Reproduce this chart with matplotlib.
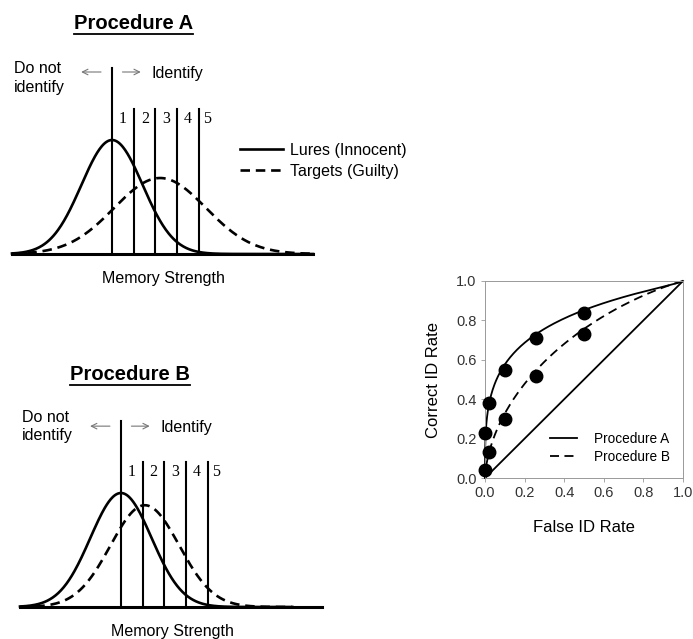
import math

import matplotlib

matplotlib.use("Agg")
import matplotlib.pyplot as plt
import numpy as np
from matplotlib.lines import Line2D

plt.rcParams["font.family"] = ["Liberation Sans", "DejaVu Sans"]

# signal-detection model (memory strength in lure-SD units)
LURE_MU, LURE_SD = 0.0, 1.0
TARGET_A = (1.57, 1.5)    # mean, sd of guilty distribution, procedure A
TARGET_B = (0.78, 1.12)   # procedure B
CRITERIA = [0.0, 0.71, 1.42, 2.13, 2.84]
CRIT_LABELS = ["1", "2", "3", "4", "5"]

# observed ROC points
FALSE_ID = [0.50, 0.26, 0.10, 0.02, 0.00]
CORRECT_A = [0.84, 0.71, 0.55, 0.38, 0.23]
CORRECT_B = [0.73, 0.52, 0.30, 0.13, 0.04]
ROC_TICKS = [0.0, 0.2, 0.4, 0.6, 0.8, 1.0]

ncdf = np.vectorize(lambda z: 0.5 * (1 + math.erf(z / math.sqrt(2))))


def npdf(x, mu, sd):
    return np.exp(-0.5 * ((x - mu) / sd) ** 2) / (sd * math.sqrt(2 * math.pi))


fig = plt.figure(figsize=(6.93, 6.39), dpi=100)
titles = []


def panel(rect, name, target, xlim, curve_hi, dn_y, arrow_y, label_x, title_x, title_y):
    ax = fig.add_axes(rect)
    ax.set_xlim(*xlim)
    ax.set_ylim(0, 0.749)
    ax.axis("off")
    x = np.linspace(xlim[0], curve_hi, 400)
    lures, = ax.plot(x, npdf(x, LURE_MU, LURE_SD), color="black", lw=1.9,
                     label="Lures (Innocent)", clip_on=False)
    targets, = ax.plot(x, npdf(x, *target), color="black", lw=1.9, dashes=(3.6, 2.2),
                       label="Targets (Guilty)", clip_on=False)
    ax.plot(xlim, [0, 0], color="black", lw=2.2, clip_on=False)
    for i, c in enumerate(CRITERIA):
        top = 0.651 if i == 0 else 0.507
        ax.plot([c, c], [0, top], color="black", lw=1.5, clip_on=False)
        ax.text(c + (0.36 if i < 4 else 0.27), 0.473, CRIT_LABELS[i], family="Liberation Serif",
                fontsize=11.5, ha="center", va="center")
    ax.text(xlim[0] + 0.05, dn_y, "Do not\nidentify", fontsize=11.5, ha="left", va="center",
            linespacing=1.3)
    ax.annotate("", xy=(-1.1, arrow_y), xytext=(-0.27, arrow_y),
                arrowprops=dict(arrowstyle="->", color="#777777", lw=0.8))
    ax.annotate("", xy=(1.03, arrow_y), xytext=(0.25, arrow_y),
                arrowprops=dict(arrowstyle="->", color="#777777", lw=0.8))
    ax.text(1.29, arrow_y - 0.005, "Identify", fontsize=11.5, ha="left", va="center")
    t = ax.text(title_x, title_y, name, fontsize=14.5, fontweight="bold", ha="center",
                va="center")
    titles.append(t)
    ax.text(label_x, -0.087, "Memory Strength", fontsize=11.5, ha="center", va="center")
    return ax, lures, targets


axA, la, ta = panel([12 / 693, 1 - 254 / 639, 301 / 693, 214 / 639], "Procedure A", TARGET_A,
                    (-3.27, 6.57), 6.57, 0.616, 0.637, 1.67, 0.69, 0.808)
axA.legend(handles=[la, ta], loc="upper left", bbox_to_anchor=(240 / 693, 1 - 143 / 639),
           bbox_transform=fig.transFigure, frameon=False, fontsize=11.5, handlelength=2.7,
           handletextpad=0.4, labelspacing=0.35, borderpad=0, borderaxespad=0)

panel([20 / 693, 1 - 607 / 639, 302 / 693, 214 / 639], "Procedure B", TARGET_B,
      (-3.3, 6.57), 5.6, 0.632, 0.633, 1.67, 0.29, 0.815)

# ROC panel
ax = fig.add_axes([485 / 693, 1 - 478 / 639, 198 / 693, 197 / 639])
c = np.linspace(-6, 9, 600)
far = 1 - ncdf(c)
ax.plot(far, 1 - ncdf((c - TARGET_A[0]) / TARGET_A[1]), color="black", lw=1.3,
        label="Procedure A", clip_on=False)
ax.plot(far, 1 - ncdf((c - TARGET_B[0]) / TARGET_B[1]), color="black", lw=1.3,
        dashes=(5, 3), label="Procedure B", clip_on=False)
ax.plot([0, 1], [0, 1], color="black", lw=1.3)
ax.plot(FALSE_ID, CORRECT_A, "o", color="black", ms=9, clip_on=False, zorder=5)
ax.plot(FALSE_ID, CORRECT_B, "o", color="black", ms=9, clip_on=False, zorder=5)
ax.set_xlim(0, 1)
ax.set_ylim(0, 1)
ax.set_xticks(ROC_TICKS)
ax.set_yticks(ROC_TICKS)
ax.set_xticklabels([f"{v:.1f}" for v in ROC_TICKS])
ax.set_yticklabels([f"{v:.1f}" for v in ROC_TICKS])
ax.tick_params(labelsize=10.5, length=3, width=0.6, color="#999999", labelcolor="#333333", pad=3)
for s in ax.spines.values():
    s.set_color("#999999")
    s.set_linewidth(0.7)
ax.set_xlabel("False ID Rate", fontsize=12)
ax.set_ylabel("Correct ID Rate", fontsize=12)
ax.xaxis.set_label_coords(0.5, -0.215)
ax.yaxis.set_label_coords(-0.22, 0.5)
ax.legend(loc="upper left", bbox_to_anchor=(550 / 693, 1 - 432 / 639),
          bbox_transform=fig.transFigure, frameon=False, fontsize=9.8, handlelength=2.0,
          handletextpad=1.2, labelspacing=0.3, borderpad=0, borderaxespad=0)

# underline the panel titles
r = fig.canvas.get_renderer()
inv = fig.transFigure.inverted()
for t in titles:
    bb = t.get_window_extent(r)
    (x0, y0), (x1, _) = inv.transform([(bb.x0, bb.y0 - 1), (bb.x1, bb.y0)])
    fig.add_artist(Line2D([x0, x1], [y0, y0], color="black", lw=1.3))

fig.savefig("out.png", dpi=100)
